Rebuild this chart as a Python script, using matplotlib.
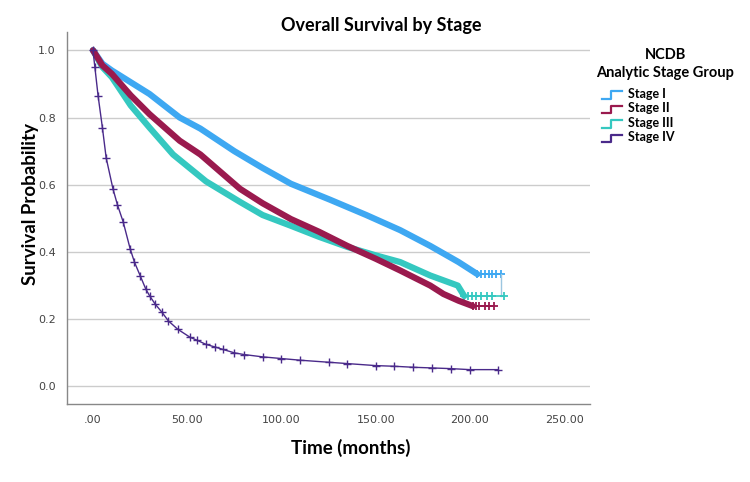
import numpy as np
import matplotlib
matplotlib.use("Agg")
import matplotlib.pyplot as plt
from matplotlib.legend_handler import HandlerBase
from matplotlib.lines import Line2D

# Kaplan-Meier estimates (months, survival)
t_stage1 = [0, 5, 10, 20, 30, 46, 57, 75, 90, 105, 126, 145, 163, 179, 194, 204]
s_stage1 = [1.0, 0.96, 0.94, 0.905, 0.87, 0.80, 0.767, 0.70, 0.65, 0.603, 0.555, 0.51, 0.465, 0.418, 0.37, 0.334]
tail_t_stage1 = [204, 206, 208, 210, 212, 214, 216.5]
tail_end_stage1 = 0.269

t_stage2 = [0, 5, 10, 20, 30, 46, 57, 78, 90, 105, 120, 135, 150, 163, 179, 186, 194, 201.6]
s_stage2 = [1.0, 0.955, 0.93, 0.866, 0.81, 0.731, 0.69, 0.588, 0.545, 0.498, 0.46, 0.418, 0.38, 0.345, 0.30, 0.275, 0.255, 0.239]
tail_t_stage2 = [201.6, 203, 205, 208, 210, 213]

t_stage3 = [0, 5, 10, 20, 30, 42.5, 60, 78, 90, 105, 120, 135, 150, 163, 179, 193.6, 197]
s_stage3 = [1.0, 0.95, 0.92, 0.836, 0.77, 0.69, 0.61, 0.549, 0.51, 0.478, 0.445, 0.415, 0.39, 0.37, 0.33, 0.30, 0.269]
tail_t_stage3 = [197, 199, 201, 203, 206, 209, 212, 218]

t_stage4 = [0, 1, 2.7, 5, 7, 10.6, 13, 16, 19.7, 22, 25, 28, 30, 33, 36.7, 40, 45, 51.6, 55, 60,
            65, 69, 75, 80, 90, 100, 110, 125, 135, 150, 160, 170, 180, 190, 200, 215]
s_stage4 = [1.0, 0.95, 0.865, 0.77, 0.68, 0.588, 0.54, 0.49, 0.41, 0.37, 0.33, 0.29, 0.27, 0.245, 0.22, 0.195, 0.17, 0.146, 0.138, 0.125,
            0.117, 0.11, 0.10, 0.095, 0.088, 0.083, 0.078, 0.072, 0.068, 0.062, 0.060, 0.057, 0.055, 0.053, 0.05, 0.05]

labels = ["Stage I", "Stage II", "Stage III", "Stage IV"]
colors = ["#3ea8f2", "#9a1a4e", "#35c8c0", "#4a2a8a"]


class StepHandler(HandlerBase):
    # little step-shaped legend key, like the SPSS one
    def create_artists(self, legend, orig_handle, xdescent, ydescent,
                       width, height, fontsize, trans):
        xs = np.array([0, 0.45, 0.45, 1.0]) * width - xdescent
        ys = np.array([-0.1, -0.1, 0.75, 0.75]) * height - ydescent
        ln = Line2D(xs, ys, color=orig_handle.get_color(), lw=1.6)
        ln.set_transform(trans)
        return [ln]


fig = plt.figure(figsize=(7.5, 4.82), dpi=100)
ax = fig.add_axes([0.0893, 0.162, 0.698, 0.772])

main_lw = 4.5
tail_kw = dict(lw=1.2, marker="+", ms=6, mew=1.3)
# stage I
ax.plot(t_stage1, s_stage1, color=colors[0], lw=main_lw, solid_capstyle="round")
ax.plot(tail_t_stage1, [s_stage1[-1]] * len(tail_t_stage1), color=colors[0], **tail_kw)
ax.plot([tail_t_stage1[-1], tail_t_stage1[-1]], [s_stage1[-1], tail_end_stage1], color="#9cc6e0", lw=1)
# stage III
ax.plot(t_stage3, s_stage3, color=colors[2], lw=main_lw, solid_capstyle="round")
ax.plot(tail_t_stage3, [s_stage3[-1]] * len(tail_t_stage3), color=colors[2], **tail_kw)
# stage II
ax.plot(t_stage2, s_stage2, color=colors[1], lw=main_lw, solid_capstyle="round")
ax.plot(tail_t_stage2, [s_stage2[-1]] * len(tail_t_stage2), color=colors[1], **tail_kw)
# stage IV
ax.plot(t_stage4, s_stage4, color=colors[3], lw=1.0, marker="+", ms=6, mew=1.0)

ax.set_xlim(-13.8, 264)
ax.set_ylim(-0.052, 1.055)
ax.set_xticks([0, 50, 100, 150, 200, 250])
ax.set_xticklabels([".00", "50.00", "100.00", "150.00", "200.00", "250.00"])
ax.set_yticks([0.0, 0.2, 0.4, 0.6, 0.8, 1.0])
ax.set_yticklabels(["0.0", "0.2", "0.4", "0.6", "0.8", "1.0"])
ax.tick_params(length=0, labelsize=8, labelcolor="#444444", pad=8)
ax.grid(axis="y", color="#cccccc", lw=1)
ax.set_axisbelow(True)
for side in ["top", "right"]:
    ax.spines[side].set_visible(False)
for side in ["left", "bottom"]:
    ax.spines[side].set_color("#888888")
    ax.spines[side].set_linewidth(1)

fig.text(0.508, 0.948, "Overall Survival by Stage", fontsize=13, fontweight="bold",
         family="Lato", ha="center", va="center")
ax.set_xlabel("Time (months)", fontsize=13.5, fontweight="bold", family="Lato")
ax.xaxis.set_label_coords(0.543, -0.095)
ax.set_ylabel("Survival Probability", fontsize=13.5, fontweight="bold", family="Lato")
ax.yaxis.set_label_coords(-0.054, 0.538)

fig.text(0.887, 0.867, "NCDB\nAnalytic Stage Group", fontsize=10.5, fontweight="bold",
         family="Lato", ha="center", va="center", multialignment="center", linespacing=1.35)

handles = [Line2D([], [], color=c) for c in colors]
leg = fig.legend(handles, labels, handler_map={Line2D: StepHandler()},
                 loc="upper left", bbox_to_anchor=(0.803, 0.818), frameon=False,
                 prop={"family": "Lato", "weight": "bold", "size": 9},
                 handlelength=1.6, handletextpad=0.5, labelspacing=0.2,
                 borderpad=0, borderaxespad=0)

fig.savefig("out.png", dpi=100)
